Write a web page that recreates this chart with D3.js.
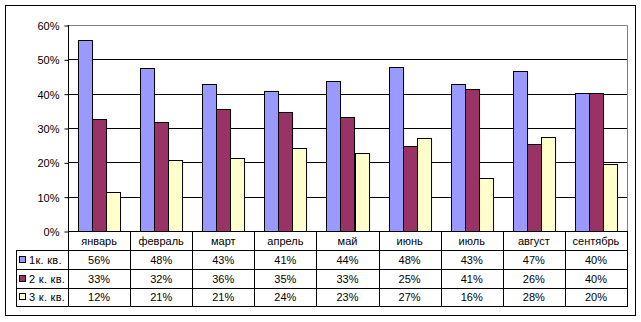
<!DOCTYPE html>
<html><head><meta charset="utf-8">
<script src="https://cdn.jsdelivr.net/npm/d3@7"></script>
<style>body{margin:0;background:#fff}svg{display:block}text{font-family:"Liberation Sans",Arial,sans-serif;font-size:11px;fill:#000}</style>
</head><body><svg id="c" width="641" height="322"></svg>
<script>
const months = ["январь","февраль","март","апрель","май","июнь","июль","август","сентябрь"];
const seriesNames = ["1к. кв.","2 к. кв.","3 к. кв."];
const q1 = [55.6,47.5,42.8,40.8,43.7,47.8,42.8,46.6,40.2];
const q2 = [32.6,31.7,35.5,34.7,33.2,24.8,41.4,25.3,40.2];
const q3 = [11.4,20.7,21.4,24.2,22.7,27.1,15.4,27.4,19.5];
const q1Labels = ["56%","48%","43%","41%","44%","48%","43%","47%","40%"];
const q2Labels = ["33%","32%","36%","35%","33%","25%","41%","26%","40%"];
const q3Labels = ["12%","21%","21%","24%","23%","27%","16%","28%","20%"];
const yTicks = [0,10,20,30,40,50,60];
const colors = ["#9999FF","#993366","#FFFFCC"];

const series = [q1,q2,q3];
const labels = [q1Labels,q2Labels,q3Labels];
const svg = d3.select("#c");
const L = 68, R = 627, T = 25, B = 231;
const tableLeft = 16, rowYs = [231,250,269,288,306];

const x = d3.scaleBand().domain(months).range([L,R]).padding(0);
const xs = d3.scaleBand().domain([0,1,2]).range([10, x.bandwidth()-10]).padding(0);
const y = d3.scaleLinear().domain([0,60]).range([B,T]);
const px = v => Math.round(v)+0.5;

// outer frame
svg.append("rect").attr("x",5.5).attr("y",5.5).attr("width",630).attr("height",310)
  .attr("fill","#fff").attr("stroke","#000");

// gridlines
svg.append("g").selectAll("line").data(yTicks.filter(t=>t>0&&t<60)).join("line")
  .attr("x1",L).attr("x2",R).attr("y1",d=>px(y(d))).attr("y2",d=>px(y(d)))
  .attr("stroke","#000");
// plot border (gray top/right)
svg.append("path").attr("d",`M${L},${px(y(60))}H${px(R)}V${B}`).attr("fill","none").attr("stroke","#808080");

// bars
const g = svg.append("g");
series.forEach((s,si)=>{
  g.selectAll(null).data(s).join("rect")
    .attr("x",(d,i)=>px(x(months[i])+xs(si)))
    .attr("y",d=>px(y(d)))
    .attr("width",xs.bandwidth())
    .attr("height",d=>Math.round(y(0))-Math.round(y(d)))
    .attr("fill",colors[si]).attr("stroke","#000");
});

// y axis
const yAxis = d3.axisLeft(y).tickValues(yTicks).tickFormat(d=>d+"%").tickSizeOuter(0).tickSize(4).tickPadding(5);
const ya = svg.append("g").attr("transform",`translate(${px(L)},0.5)`).call(yAxis);
ya.select(".domain").remove();
ya.selectAll("line").attr("stroke","#000");
ya.selectAll("text").attr("font-family","Liberation Sans").attr("font-size",11).attr("dy","0.35em").attr("fill","#000");
svg.append("line").attr("x1",px(L)).attr("x2",px(L)).attr("y1",T).attr("y2",rowYs[4]).attr("stroke","#000");
svg.append("line").attr("x1",L).attr("x2",R+1).attr("y1",px(B)).attr("y2",px(B)).attr("stroke","#000");

// data table
const tg = svg.append("g");
rowYs.slice(1).forEach(ry=>{
  tg.append("line").attr("x1",tableLeft).attr("x2",R+1).attr("y1",px(ry)).attr("y2",px(ry)).attr("stroke","#000");
});
months.forEach((m,i)=>{
  tg.append("line").attr("x1",px(x(m)+x.bandwidth())).attr("x2",px(x(m)+x.bandwidth()))
    .attr("y1",B).attr("y2",rowYs[4]).attr("stroke","#000");
});
tg.append("line").attr("x1",px(tableLeft)).attr("x2",px(tableLeft)).attr("y1",rowYs[1]).attr("y2",rowYs[4]).attr("stroke","#000");

tg.selectAll(".mh").data(months).join("text").attr("class","mh")
  .attr("x",d=>x(d)+x.bandwidth()/2).attr("y",(rowYs[0]+rowYs[1])/2).attr("dy","0.38em")
  .attr("text-anchor","middle").text(d=>d);
labels.forEach((lab,si)=>{
  const cy = (rowYs[si+1]+rowYs[si+2])/2;
  tg.selectAll(null).data(lab).join("text")
    .attr("x",(d,i)=>x(months[i])+x.bandwidth()/2).attr("y",cy).attr("dy","0.38em")
    .attr("text-anchor","middle").text(d=>d);
  tg.append("rect").attr("x",19.5).attr("y",Math.round(cy)-3.5).attr("width",6).attr("height",6)
    .attr("fill",colors[si]).attr("stroke","#000");
  tg.append("text").attr("x",29).attr("y",cy).attr("dy","0.38em").attr("letter-spacing","0.3px").text(seriesNames[si]);
});
</script></body></html>
